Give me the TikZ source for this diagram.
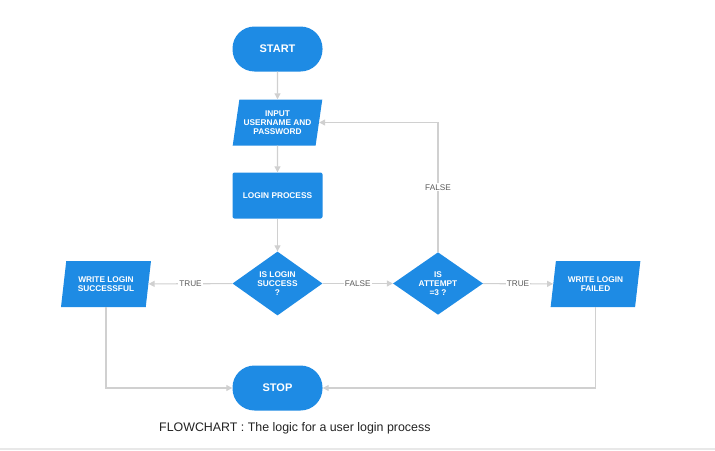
\documentclass[tikz,border=0pt]{standalone}
\usepackage{fontspec}
\setmainfont{Liberation Sans}
\usepackage{tikz}
\usetikzlibrary{shapes,arrows,arrows.meta,positioning}

\definecolor{flowblue}{RGB}{30,139,228}
\definecolor{linegray}{RGB}{208,208,208}
\definecolor{labelgray}{RGB}{90,90,90}
\definecolor{bandgray}{RGB}{232,232,232}

\begin{document}
\begin{tikzpicture}[x=1pt, y=-1pt, >={Triangle[length=6pt, width=6pt]}]
		\tikzstyle{Terminal}	= [rectangle, rounded corners=22pt, fill=flowblue, text=white, minimum width=90pt, minimum height=45pt, inner sep=0pt, font=\fontsize{11}{13}\selectfont\bfseries]
		\tikzstyle{Process}	= [rectangle, rounded corners=2pt, fill=flowblue, text=white, minimum width=90pt, minimum height=46pt, inner sep=0pt, align=center, font=\fontsize{8.3}{9}\selectfont\bfseries]
		\tikzstyle{IO}		= [trapezium, trapezium left angle=76, trapezium right angle=104, trapezium stretches=true, fill=flowblue, text=white, minimum width=90pt, minimum height=46pt, inner sep=0pt, align=center, font=\fontsize{8.3}{9}\selectfont\bfseries]
		\tikzstyle{Decision}	= [diamond, fill=flowblue, text=white, minimum width=90pt, minimum height=61pt, inner sep=0pt, align=center, font=\fontsize{8.3}{9}\selectfont\bfseries]
		\tikzstyle{Link}	= [line width=1.1pt, linegray]
		\tikzstyle{Label}	= [fill=white, text=labelgray, inner sep=1pt, font=\fontsize{8.2}{9}\selectfont]

		\useasboundingbox (0,0) rectangle (715,450);

		\node (start) at (277.5,49) [Terminal] {START};
		\node (input) at (277.5,122.5) [IO] {INPUT\\USERNAME AND\\PASSWORD};
		\node (login) at (277.5,195.5) [Process] {LOGIN PROCESS};
		\node (success) at (277.5,283.5) [Decision] {IS LOGIN\\SUCCESS\\?};
		\node (attempt) at (438,283.5) [Decision] {IS\\ATTEMPT\\=3 ?};
		\node (wsuccess) at (106,284) [IO] {WRITE LOGIN\\SUCCESSFUL};
		\node (wfailed) at (595.5,284) [IO] {WRITE LOGIN\\FAILED};
		\node (stop) at (277.5,388) [Terminal] {STOP};
		\node (caption) at (159,431) [anchor=base west, text={rgb,255:red,34;green,34;blue,34}, inner sep=0pt, font=\fontsize{12.4}{14}\selectfont] {FLOWCHART : The logic for a user login process};

		\draw [->] (start) to (input) [Link];
		\draw [->] (input) to (login) [Link];
		\draw [->] (login) to (success) [Link];
		\draw [->] (success) to node[Label] {TRUE} (wsuccess) [Link];
		\draw [->] (success) to node[Label] {FALSE} (attempt) [Link];
		\draw [->] (attempt) to node[Label] {TRUE} (wfailed) [Link];
		\draw [->] (attempt) |- node[Label, pos=0.25] {FALSE} (input) [Link];
		\draw [->] (wsuccess) |- (stop) [Link];
		\draw [->] (wfailed) |- (stop) [Link];

		\fill [bandgray] (0,448) rectangle (715,450);
	\end{tikzpicture}
\end{document}
